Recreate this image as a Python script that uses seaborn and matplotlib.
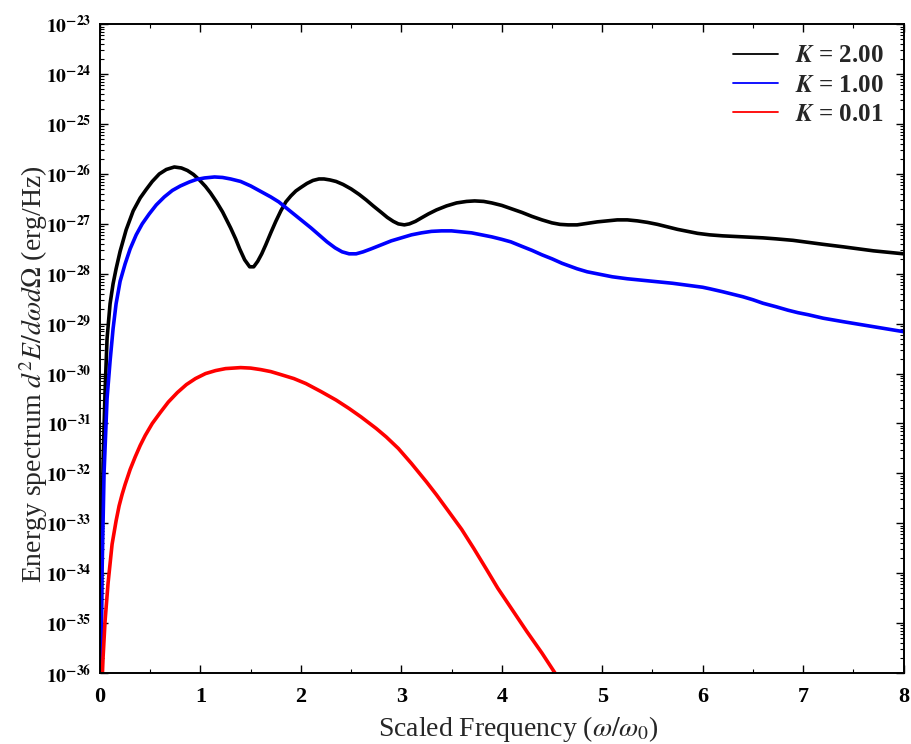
import numpy as np
import pandas as pd
import matplotlib
matplotlib.use("Agg")
import matplotlib.pyplot as plt
import seaborn as sns
from matplotlib.lines import Line2D
from matplotlib.ticker import LogLocator, FuncFormatter, MultipleLocator, NullFormatter

# ---- data (y given as log10 of the spectrum) ----
labels = ["K = 2.00", "K = 1.00", "K = 0.01"]
colors = ["#000000", "#0000ff", "#ff0000"]

x_k2 = [0.005, 0.015, 0.03, 0.05, 0.07, 0.1, 0.13, 0.16, 0.2, 0.26, 0.33, 0.4, 0.46, 0.52,
        0.59, 0.66, 0.74, 0.81, 0.87, 0.93, 0.99, 1.05, 1.1, 1.16, 1.22, 1.3, 1.35, 1.39,
        1.44, 1.49, 1.53, 1.57, 1.61, 1.65, 1.7, 1.75, 1.8, 1.85, 1.9, 1.95, 2.0, 2.06,
        2.12, 2.18, 2.23, 2.29, 2.35, 2.42, 2.5, 2.58, 2.65, 2.72, 2.8, 2.86, 2.92, 2.97,
        3.03, 3.08, 3.14, 3.2, 3.27, 3.35, 3.45, 3.55, 3.65, 3.73, 3.82, 3.9, 4.0, 4.1,
        4.2, 4.3, 4.4, 4.5, 4.58, 4.66, 4.75, 4.85, 4.95, 5.05, 5.15, 5.25, 5.35, 5.45,
        5.55, 5.65, 5.75, 5.85, 5.95, 6.07, 6.2, 6.4, 6.6, 6.73, 6.9, 7.05, 7.2, 7.4,
        7.55, 7.7, 7.85, 8.0]
y_k2 = [-37.0, -34.0, -31.8, -30.36, -29.3, -28.6, -28.2, -27.9, -27.55, -27.12, -26.74,
        -26.48, -26.31, -26.15, -26.0, -25.91, -25.86, -25.88, -25.93, -26.01, -26.12,
        -26.25, -26.38, -26.56, -26.76, -27.08, -27.3, -27.5, -27.72, -27.86, -27.86,
        -27.75, -27.6, -27.42, -27.18, -26.95, -26.74, -26.56, -26.44, -26.34, -26.27,
        -26.19, -26.13, -26.1, -26.1, -26.12, -26.15, -26.21, -26.3, -26.41, -26.52,
        -26.64, -26.77, -26.87, -26.95, -27.0, -27.02, -27.0, -26.95, -26.88, -26.8,
        -26.72, -26.64, -26.58, -26.55, -26.54, -26.55, -26.58, -26.63, -26.7, -26.77,
        -26.85, -26.92, -26.98, -27.01, -27.02, -27.02, -26.99, -26.96, -26.94, -26.92,
        -26.92, -26.94, -26.97, -27.01, -27.06, -27.11, -27.15, -27.19, -27.22, -27.24,
        -27.26, -27.28, -27.3, -27.33, -27.37, -27.41, -27.46, -27.5, -27.54, -27.57, -27.6]

x_k1 = [0.005, 0.02, 0.04, 0.07, 0.1, 0.13, 0.16, 0.2, 0.25, 0.3, 0.36, 0.42, 0.49, 0.56,
        0.64, 0.72, 0.8, 0.89, 0.96, 1.04, 1.14, 1.22, 1.3, 1.4, 1.5, 1.6, 1.7, 1.78,
        1.86, 1.94, 2.02, 2.1, 2.18, 2.26, 2.34, 2.41, 2.48, 2.55, 2.62, 2.7, 2.8, 2.9,
        3.0, 3.1, 3.2, 3.3, 3.4, 3.5, 3.6, 3.7, 3.8, 3.9, 4.0, 4.09, 4.2, 4.3, 4.4, 4.5,
        4.6, 4.75, 4.85, 4.95, 5.1, 5.25, 5.4, 5.55, 5.7, 5.85, 6.0, 6.07, 6.2, 6.3, 6.4,
        6.5, 6.6, 6.73, 6.85, 6.95, 7.05, 7.2, 7.4, 7.55, 7.7, 7.85, 8.0]
y_k1 = [-37.0, -34.0, -32.0, -30.5, -29.75, -29.1, -28.6, -28.15, -27.8, -27.5, -27.22,
        -27.0, -26.8, -26.62, -26.46, -26.33, -26.24, -26.16, -26.11, -26.08, -26.06,
        -26.07, -26.1, -26.15, -26.24, -26.35, -26.46, -26.56, -26.69, -26.82, -26.95,
        -27.08, -27.22, -27.36, -27.48, -27.56, -27.6, -27.6, -27.56, -27.5, -27.42,
        -27.34, -27.28, -27.22, -27.18, -27.15, -27.14, -27.14, -27.16, -27.18, -27.22,
        -27.26, -27.31, -27.36, -27.45, -27.53, -27.62, -27.7, -27.79, -27.9, -27.96,
        -28.0, -28.06, -28.1, -28.13, -28.16, -28.19, -28.23, -28.27, -28.3, -28.36,
        -28.41, -28.46, -28.52, -28.59, -28.66, -28.73, -28.78, -28.82, -28.89, -28.96,
        -29.01, -29.06, -29.11, -29.16]

x_k001 = [0.02, 0.03, 0.05, 0.08, 0.12, 0.16, 0.19, 0.22, 0.25, 0.3, 0.35, 0.4, 0.45, 0.52,
          0.6, 0.68, 0.77, 0.86, 0.95, 1.05, 1.15, 1.25, 1.4, 1.5, 1.6, 1.7, 1.8, 1.93,
          2.05, 2.2, 2.35, 2.48, 2.6, 2.75, 2.85, 2.97, 3.1, 3.25, 3.35, 3.47, 3.6, 3.72,
          3.85, 3.96, 4.1, 4.25, 4.4, 4.53, 4.6]
y_k001 = [-36.2, -35.7, -34.96, -34.2, -33.42, -32.95, -32.65, -32.42, -32.22, -31.92,
          -31.67, -31.44, -31.24, -31.0, -30.78, -30.57, -30.38, -30.22, -30.1, -30.0,
          -29.94, -29.9, -29.88, -29.89, -29.92, -29.96, -30.02, -30.1, -30.2, -30.36,
          -30.53, -30.7, -30.87, -31.1, -31.27, -31.5, -31.8, -32.17, -32.43, -32.76,
          -33.12, -33.5, -33.93, -34.3, -34.72, -35.17, -35.6, -36.0, -36.2]

xs = [x_k2, x_k1, x_k001]
ys = [y_k2, y_k1, y_k001]
frames = []
for lab, xx, yy in zip(labels, xs, ys):
    frames.append(pd.DataFrame({"w": xx, "E": np.power(10.0, np.array(yy)), "K": lab}))
df = pd.concat(frames, ignore_index=True)

# ---- style ----
sns.set_theme(style="ticks")
plt.rcParams["font.family"] = ["Liberation Serif", "DejaVu Serif"]
plt.rcParams["mathtext.fontset"] = "stix"

fig = plt.figure(figsize=(9.11, 7.44), dpi=100)
ax = fig.add_axes([0.1098, 0.0954, 0.8820, 0.8720])

sns.lineplot(data=df, x="w", y="E", hue="K", hue_order=labels,
             palette=dict(zip(labels, colors)), sort=False, estimator=None,
             linewidth=2.6, legend=False, ax=ax)

ax.set_yscale("log")
ax.set_xlim(0, 8)
ax.set_ylim(1e-36, 1e-23)

ax.xaxis.set_major_locator(MultipleLocator(1))
ax.xaxis.set_minor_locator(MultipleLocator(0.5))
ax.yaxis.set_major_locator(LogLocator(base=10, numticks=30))
ax.yaxis.set_minor_locator(LogLocator(base=10, subs=np.arange(2, 10), numticks=30))
ax.yaxis.set_minor_formatter(NullFormatter())
ax.yaxis.set_major_formatter(FuncFormatter(
    lambda v, p: r"$\mathbf{10^{%d}}$" % int(round(np.log10(v)))))
ax.xaxis.set_major_formatter(FuncFormatter(lambda v, p: "%d" % v))

ax.tick_params(which="both", direction="in", top=True, right=True, colors="black")
ax.tick_params(which="major", length=6, width=1.0)
ax.tick_params(which="minor", length=3, width=0.8)
ax.tick_params(axis="x", which="major", labelsize=16, pad=10)
ax.tick_params(axis="y", which="major", labelsize=14, pad=6)
for lab in ax.get_xticklabels():
    lab.set_fontweight("bold")
for sp in ax.spines.values():
    sp.set_linewidth(1.4)
    sp.set_color("black")

ax.set_xlabel(r"Scaled Frequency ($\omega/\omega_0$)", fontsize=20)
ax.set_ylabel(r"Energy spectrum $d^2E/d\omega d\Omega$ (erg/Hz)", fontsize=20)
ax.xaxis.set_label_coords(0.521, -0.086, transform=ax.transAxes)
ax.xaxis.label.set_va("center")
ax.yaxis.set_label_coords(-0.083, 0.46, transform=ax.transAxes)
ax.yaxis.label.set_va("center")

handles = [Line2D([0], [0], color=c, lw=1.3) for c in colors]
leg_labels = [r"$\mathbfit{K}$ = 2.00", r"$\mathbfit{K}$ = 1.00", r"$\mathbfit{K}$ = 0.01"]
leg = ax.legend(handles, leg_labels, loc="upper right", frameon=False,
                fontsize=18, handlelength=1.8, handletextpad=0.65, labelspacing=0.25,
                bbox_to_anchor=(1.0, 1.0), borderaxespad=0.4)
for t in leg.get_texts():
    t.set_fontweight("bold")

fig.savefig("out.png", dpi=100)
